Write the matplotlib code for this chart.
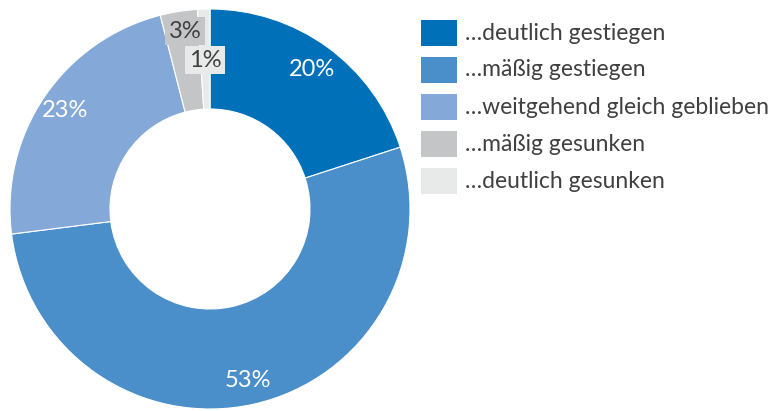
import matplotlib
matplotlib.use("Agg")
import matplotlib.pyplot as plt
from matplotlib.patches import Rectangle
import numpy as np

categories = ["…deutlich gestiegen", "…mäßig gestiegen", "…weitgehend gleich geblieben",
              "…mäßig gesunken", "…deutlich gesunken"]
values = [20, 53, 23, 3, 1]
labels = ["20%", "53%", "23%", "3%", "1%"]
colors = ["#0070B8", "#4A8FCA", "#84A9D8", "#C4C5C7", "#E8E9E9"]

plt.rcParams['font.family'] = ['Lato', 'DejaVu Sans']

W, H = 774, 411
fig = plt.figure(figsize=(W / 100, H / 100), dpi=100)
ax = fig.add_axes([0, 0, 1, 1])

cx, cy, R = 210, 209, 200
# y axis is inverted below, so counter-clockwise in data = clockwise on screen
wedges, _ = ax.pie(values, colors=colors, startangle=-90, counterclock=True,
                   radius=R, center=(cx, cy),
                   wedgeprops=dict(width=R * 0.5, edgecolor="white", linewidth=0.8))
ax.set_xlim(0, W)
ax.set_ylim(H, 0)
ax.set_aspect("equal")
ax.axis("off")

# labels
label_r = [0.865, 0.88, 0.875, 0.90, 0.745]
txt_colors = ["white", "white", "white", "#404040", "#404040"]
cum = np.cumsum([0] + values)
total = sum(values)
for i, v in enumerate(values):
    mid = (cum[i] + v / 2) / total * 360
    ang = np.deg2rad(90 - mid)
    r = label_r[i] * R
    x = cx + r * np.cos(ang)
    y = cy - r * np.sin(ang)
    if i == 3:
        x += 3
    kw = {}
    if i >= 3:
        kw["bbox"] = dict(boxstyle="square,pad=0.15", fc=colors[i], ec="none")
    ax.text(x, y, labels[i], color=txt_colors[i], fontsize=17,
            ha="center", va="center", **kw)

# legend
lx, ly0, dy = 421, 33, 37
for i, c in enumerate(categories):
    y = ly0 + i * dy
    ax.add_patch(Rectangle((lx, y - 13), 36, 26, fc=colors[i], ec="none"))
    ax.text(lx + 44, y, c, color="#404040", fontsize=16.5, ha="left", va="center")

fig.savefig("out.png", dpi=100)
